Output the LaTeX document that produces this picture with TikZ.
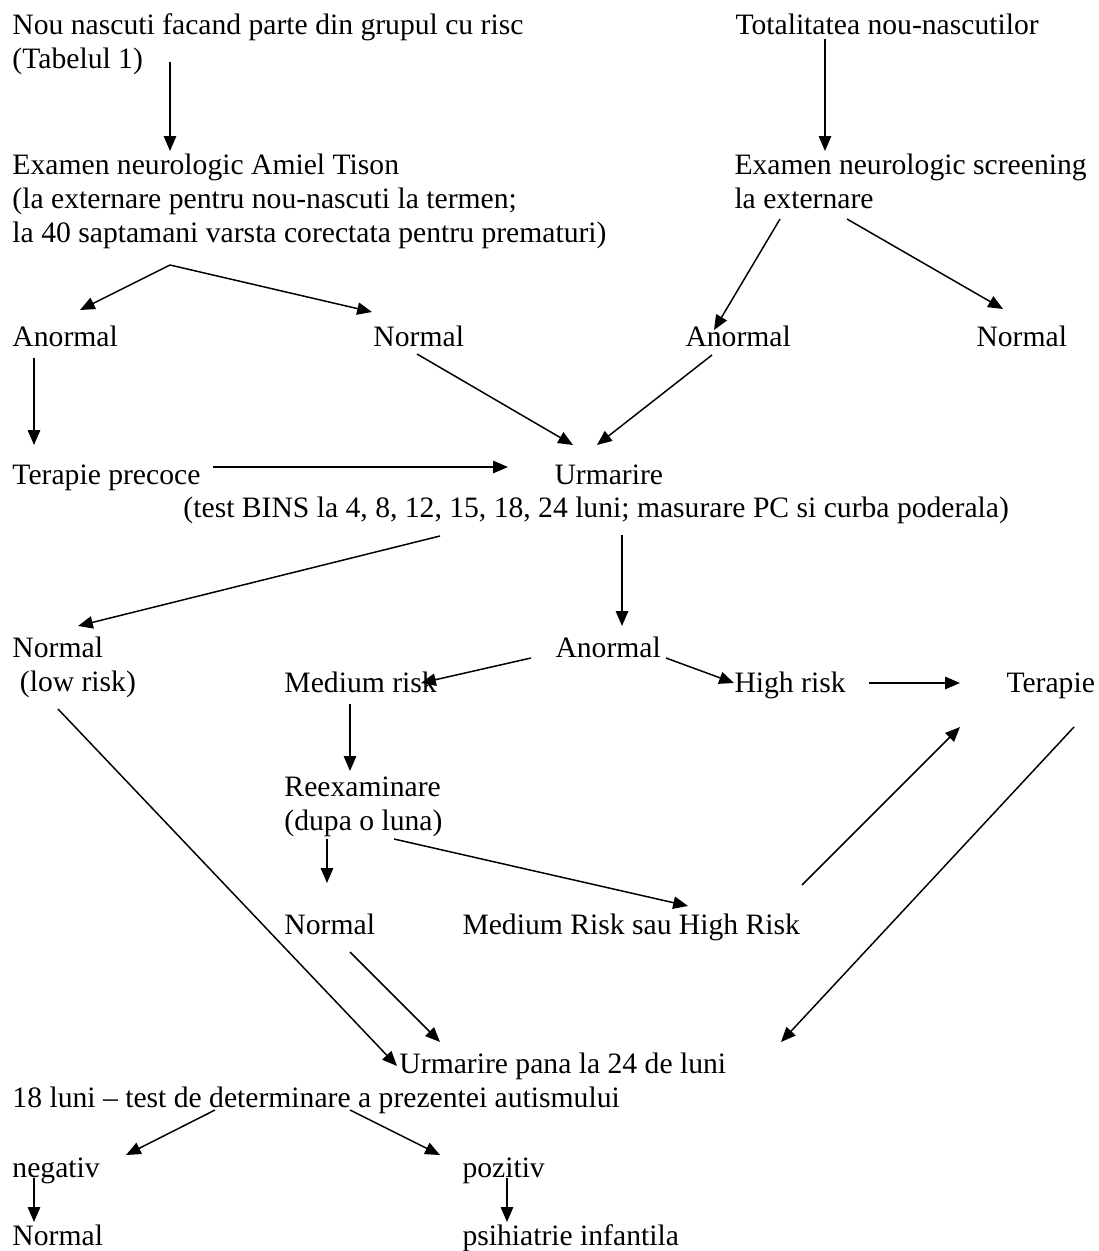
\documentclass[tikz,border=0pt]{standalone}
\usepackage{fontspec}
\setmainfont{Liberation Serif}
\usetikzlibrary{arrows.meta}

\begin{document}
\begin{tikzpicture}[x=0.405pt,y=-0.405pt,
  txt/.style={anchor=base west,inner sep=0pt,align=left,font=\fontsize{12}{13.6}\selectfont},
  arr/.style={-{Triangle[length=6pt,width=5pt]},line width=0.6pt}]
\useasboundingbox (0,0) rectangle (1099,1251);

% top: the two groups of newborns (multi-line nodes sit on their last line)
\node[txt] (risc) at (12,68.5) {Nou nascuti facand parte din grupul cu risc\\(Tabelul 1)};
\node[txt] (total) at (735,35) {Totalitatea nou-nascutilor};
\node[txt] (amiel) at (12,242) {Examen neurologic Amiel Tison\\(la externare pentru nou-nascuti la termen;\\la 40 saptamani varsta corectata pentru prematuri)};
\node[txt] (screen) at (734,208.5) {Examen neurologic screening\\la externare};

\node[txt] (anorm1) at (12,346) {Anormal};
\node[txt] (norm1) at (373,346) {Normal};
\node[txt] (anorm2) at (685,346) {Anormal};
\node[txt] (norm2) at (976,346) {Normal};

% follow-up
\node[txt] (terprec) at (12,484) {Terapie precoce};
\node[txt] (urm) at (554,484) {Urmarire};
\node[txt] (bins) at (183,517.5) {(test BINS la 4, 8, 12, 15, 18, 24 luni; masurare PC si curba poderala)};

\node[txt] (normlow) at (12,691) {Normal\\\ (low risk)};
\node[txt] (anorm3) at (555,657) {Anormal};
\node[txt] (medium) at (284,692) {Medium risk};
\node[txt] (high) at (734,692) {High risk};
\node[txt] (terapie) at (1006,692) {Terapie};

\node[txt] (reex) at (284,830) {Reexaminare\\(dupa o luna)};
\node[txt] (norm3) at (284,934) {Normal};
\node[txt] (mrhr) at (462,934) {Medium Risk sau High Risk};

% bottom: autism test
\node[txt] (urm24) at (399,1073) {Urmarire pana la 24 de luni};
\node[txt] (autism) at (12,1107) {18 luni – test de determinare a prezentei autismului};
\node[txt] (neg) at (12,1177) {negativ};
\node[txt] (poz) at (462,1177) {pozitiv};
\node[txt] (norm4) at (12,1245) {Normal};
\node[txt] (psih) at (462,1245) {psihiatrie infantila};

% arrow ends
\coordinate (risc-o) at (170,62);   \coordinate (amiel-i) at (170,151);
\coordinate (total-o) at (825,39);  \coordinate (screen-i) at (825,151);
\coordinate (amiel-o) at (170,265); \coordinate (anorm1-i) at (80,310);
\coordinate (norm1-i) at (372,312);
\coordinate (screen-o1) at (780,219); \coordinate (anorm2-i) at (714,330);
\coordinate (screen-o2) at (847,219); \coordinate (norm2-i) at (1003,309);
\coordinate (anorm1-o) at (34,358); \coordinate (terprec-i) at (34,445);
\coordinate (norm1-o) at (417,354); \coordinate (urm-i1) at (573,445);
\coordinate (anorm2-o) at (712,355); \coordinate (urm-i2) at (597,445);
\coordinate (terprec-o) at (213,467); \coordinate (urm-i3) at (508,467);
\coordinate (bins-o1) at (440,536); \coordinate (normlow-i) at (78,626);
\coordinate (bins-o2) at (622,535); \coordinate (anorm3-i) at (622,626);
\coordinate (anorm3-o1) at (531,658); \coordinate (medium-i) at (421,683);
\coordinate (anorm3-o2) at (666,658); \coordinate (high-i) at (734,683);
\coordinate (high-o) at (869,683); \coordinate (terapie-i1) at (960,683);
\coordinate (medium-o) at (350,704); \coordinate (reex-i) at (350,771);
\coordinate (reex-o1) at (327,839); \coordinate (norm3-i) at (327,883);
\coordinate (reex-o2) at (394,839); \coordinate (mrhr-i) at (688,906);
\coordinate (mrhr-o) at (802,885); \coordinate (terapie-i2) at (960,727);
\coordinate (terapie-o) at (1074,727); \coordinate (urm24-i1) at (781,1042);
\coordinate (normlow-o) at (58,709); \coordinate (urm24-i2) at (397,1066);
\coordinate (norm3-o) at (350,952); \coordinate (urm24-i3) at (440,1042);
\coordinate (autism-o1) at (215,1110); \coordinate (neg-i) at (126,1155);
\coordinate (autism-o2) at (350,1110); \coordinate (poz-i) at (440,1155);
\coordinate (neg-o) at (34,1178); \coordinate (norm4-i) at (34,1222);
\coordinate (poz-o) at (507,1178); \coordinate (psih-i) at (507,1222);

\draw[arr] (risc-o) -- (amiel-i);
\draw[arr] (total-o) -- (screen-i);
\draw[arr] (amiel-o) -- (anorm1-i);
\draw[arr] (amiel-o) -- (norm1-i);
\draw[arr] (screen-o1) -- (anorm2-i);
\draw[arr] (screen-o2) -- (norm2-i);
\draw[arr] (anorm1-o) -- (terprec-i);
\draw[arr] (norm1-o) -- (urm-i1);
\draw[arr] (anorm2-o) -- (urm-i2);
\draw[arr] (terprec-o) -- (urm-i3);
\draw[arr] (bins-o1) -- (normlow-i);
\draw[arr] (bins-o2) -- (anorm3-i);
\draw[arr] (anorm3-o1) -- (medium-i);
\draw[arr] (anorm3-o2) -- (high-i);
\draw[arr] (high-o) -- (terapie-i1);
\draw[arr] (medium-o) -- (reex-i);
\draw[arr] (reex-o1) -- (norm3-i);
\draw[arr] (reex-o2) -- (mrhr-i);
\draw[arr] (mrhr-o) -- (terapie-i2);
\draw[arr] (terapie-o) -- (urm24-i1);
\draw[arr] (normlow-o) -- (urm24-i2);
\draw[arr] (norm3-o) -- (urm24-i3);
\draw[arr] (autism-o1) -- (neg-i);
\draw[arr] (autism-o2) -- (poz-i);
\draw[arr] (neg-o) -- (norm4-i);
\draw[arr] (poz-o) -- (psih-i);
\end{tikzpicture}
\end{document}
